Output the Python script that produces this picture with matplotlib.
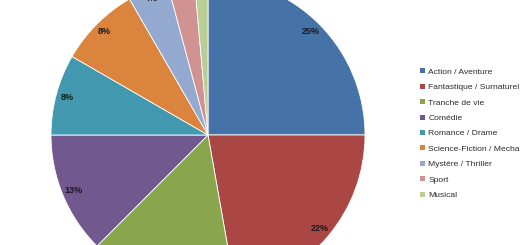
import matplotlib
matplotlib.use("Agg")
import matplotlib.pyplot as plt
from matplotlib.patches import Patch
import numpy as np

categories = ["Action / Aventure", "Fantastique / Surnaturel", "Tranche de vie",
              "Comédie", "Romance / Drame", "Science-Fiction / Mecha",
              "Mystère / Thriller", "Sport", "Musical"]
counts = [18, 16, 11, 9, 6, 6, 3, 2, 1]
colors = ["#4572A7", "#AA4643", "#89A54E", "#71588F", "#4198AF",
          "#DB843D", "#93A9CF", "#D19392", "#B9CD96"]

plt.rcParams['font.family'] = ['Liberation Sans', 'DejaVu Sans']

fig = plt.figure(figsize=(5.2, 2.45), dpi=100)
W, H = 520, 245
cx, cy, r = 208, 135, 157
ax = fig.add_axes([(cx - r) / W, (H - cy - r) / H, 2 * r / W, 2 * r / H])

def fmt(p):
    return f"{int(p + 0.5)}%"

wedges, texts, autotexts = ax.pie(
    counts, colors=colors, startangle=90, counterclock=False,
    autopct=fmt, pctdistance=0.93,
    wedgeprops=dict(edgecolor="white", linewidth=0.6),
    textprops=dict(fontsize=6.5, fontweight="bold", color="#1a1a1a"),
    radius=1.0)

# small slices' labels sit further out (mostly beyond the visible area)
for w, t, c in zip(wedges, autotexts, counts):
    if c <= 3:
        ang = np.deg2rad((w.theta1 + w.theta2) / 2)
        rr = 0.938 if c == 3 else 1.05
        t.set_position((rr * np.cos(ang), rr * np.sin(ang)))

ax.set_xlim(-1, 1)
ax.set_ylim(-1, 1)
ax.set_aspect("auto")
ax.axis("off")

handles = [Patch(facecolor=c, edgecolor="none") for c in colors]
fig.legend(handles, categories, loc="upper left",
           bbox_to_anchor=(416 / W, 1 - 64 / H), frameon=False,
           fontsize=6.1, handlelength=0.55, handleheight=0.55,
           handletextpad=0.4, labelspacing=0.93, borderpad=0,
           labelcolor="#2b2b2b")

fig.savefig("out.png", dpi=100)
